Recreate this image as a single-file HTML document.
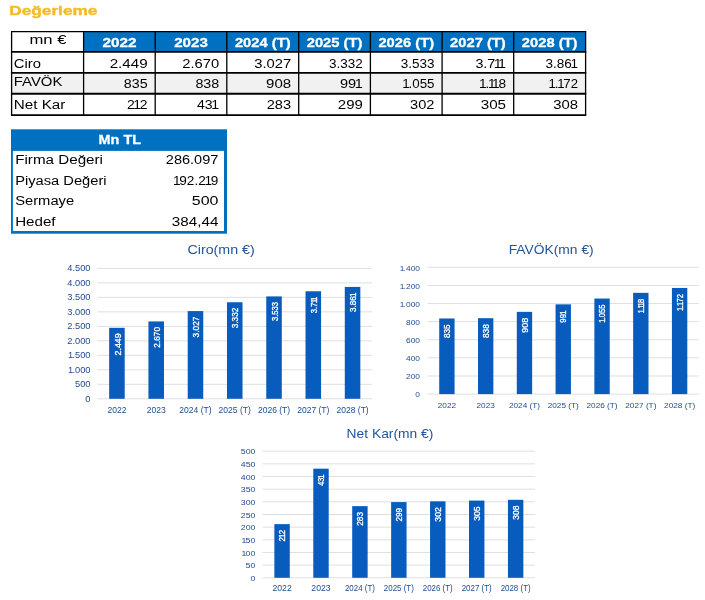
<!DOCTYPE html>
<html lang="tr">
<head>
<meta charset="utf-8">
<title>Değerleme</title>
<style>
html,body{margin:0;padding:0;background:#fff;}
body{width:705px;height:600px;overflow:hidden;font-family:"Liberation Sans",sans-serif;}
svg{display:block;}
</style>
</head>
<body>
<svg width="705" height="600" viewBox="0 0 705 600" font-family="'Liberation Sans', sans-serif">
<rect width="705" height="600" fill="#fff"/>
<text x="9.20" y="15.40" font-size="13.5" fill="#F5BB27" text-anchor="start" font-weight="bold" stroke="#F5BB27" stroke-width="0.4" textLength="88.3" lengthAdjust="spacingAndGlyphs">Değerleme</text>
<rect x="83.6" y="31.6" width="502.0" height="20.299999999999997" fill="#0070C0"/>
<rect x="11.6" y="72.9" width="574.0" height="20.89999999999999" fill="#f1f1f1"/>
<line x1="10.95" x2="586.25" y1="31.6" y2="31.6" stroke="#000" stroke-width="1.3"/>
<line x1="10.95" x2="586.25" y1="51.9" y2="51.9" stroke="#000" stroke-width="1.9"/>
<line x1="10.95" x2="586.25" y1="72.9" y2="72.9" stroke="#000" stroke-width="1.9"/>
<line x1="10.95" x2="586.25" y1="93.8" y2="93.8" stroke="#000" stroke-width="1.9"/>
<line x1="10.95" x2="586.25" y1="115.1" y2="115.1" stroke="#000" stroke-width="1.9"/>
<line x1="11.6" x2="11.6" y1="31.6" y2="115.1" stroke="#000" stroke-width="1.3"/>
<line x1="83.6" x2="83.6" y1="31.6" y2="115.1" stroke="#000" stroke-width="1.3"/>
<line x1="155.2" x2="155.2" y1="31.6" y2="115.1" stroke="#000" stroke-width="1.3"/>
<line x1="226.8" x2="226.8" y1="31.6" y2="115.1" stroke="#000" stroke-width="1.3"/>
<line x1="298.7" x2="298.7" y1="31.6" y2="115.1" stroke="#000" stroke-width="1.3"/>
<line x1="370.4" x2="370.4" y1="31.6" y2="115.1" stroke="#000" stroke-width="1.3"/>
<line x1="442.1" x2="442.1" y1="31.6" y2="115.1" stroke="#000" stroke-width="1.3"/>
<line x1="513.7" x2="513.7" y1="31.6" y2="115.1" stroke="#000" stroke-width="1.3"/>
<line x1="585.6" x2="585.6" y1="31.6" y2="115.1" stroke="#000" stroke-width="1.3"/>
<text x="48.00" y="44.20" font-size="12" fill="#000" text-anchor="middle" font-weight="normal" textLength="37.0" lengthAdjust="spacingAndGlyphs">mn €</text>
<text x="119.40" y="46.80" font-size="12.5" fill="#fff" text-anchor="middle" font-weight="bold" stroke="#fff" stroke-width="0.3" textLength="34.0" lengthAdjust="spacingAndGlyphs">2022</text>
<text x="191.00" y="46.80" font-size="12.5" fill="#fff" text-anchor="middle" font-weight="bold" stroke="#fff" stroke-width="0.3" textLength="33.6" lengthAdjust="spacingAndGlyphs">2023</text>
<text x="262.75" y="46.80" font-size="12.5" fill="#fff" text-anchor="middle" font-weight="bold" stroke="#fff" stroke-width="0.3" textLength="55.6" lengthAdjust="spacingAndGlyphs">2024 (T)</text>
<text x="334.55" y="46.80" font-size="12.5" fill="#fff" text-anchor="middle" font-weight="bold" stroke="#fff" stroke-width="0.3" textLength="55.6" lengthAdjust="spacingAndGlyphs">2025 (T)</text>
<text x="406.25" y="46.80" font-size="12.5" fill="#fff" text-anchor="middle" font-weight="bold" stroke="#fff" stroke-width="0.3" textLength="55.6" lengthAdjust="spacingAndGlyphs">2026 (T)</text>
<text x="477.90" y="46.80" font-size="12.5" fill="#fff" text-anchor="middle" font-weight="bold" stroke="#fff" stroke-width="0.3" textLength="55.6" lengthAdjust="spacingAndGlyphs">2027 (T)</text>
<text x="549.65" y="46.80" font-size="12.5" fill="#fff" text-anchor="middle" font-weight="bold" stroke="#fff" stroke-width="0.3" textLength="55.6" lengthAdjust="spacingAndGlyphs">2028 (T)</text>
<text x="13.80" y="67.50" font-size="12" fill="#000" text-anchor="start" font-weight="normal" textLength="27.2" lengthAdjust="spacingAndGlyphs">Ciro</text>
<text x="147.60" y="67.50" font-size="12" fill="#000" text-anchor="end" font-weight="normal" textLength="37.9" lengthAdjust="spacingAndGlyphs">2.449</text>
<text x="219.20" y="67.50" font-size="12" fill="#000" text-anchor="end" font-weight="normal" textLength="36.9" lengthAdjust="spacingAndGlyphs">2.670</text>
<text x="291.10" y="67.50" font-size="12" fill="#000" text-anchor="end" font-weight="normal" textLength="36.9" lengthAdjust="spacingAndGlyphs">3.027</text>
<text x="362.80" y="67.50" font-size="12" fill="#000" text-anchor="end" font-weight="normal" textLength="33.8" lengthAdjust="spacingAndGlyphs">3.332</text>
<text x="434.50" y="67.50" font-size="12" fill="#000" text-anchor="end" font-weight="normal" textLength="33.8" lengthAdjust="spacingAndGlyphs">3.533</text>
<text x="506.10" y="67.50" font-size="12" fill="#000" text-anchor="end" font-weight="normal" dx="0 0 0 -1.2 -2.22" textLength="30.7" lengthAdjust="spacingAndGlyphs">3.711</text>
<text x="578.00" y="67.50" font-size="12" fill="#000" text-anchor="end" font-weight="normal" dx="0 0 0 0 -1.2" textLength="32.6" lengthAdjust="spacingAndGlyphs">3.861</text>
<text x="13.80" y="85.90" font-size="12" fill="#000" text-anchor="start" font-weight="normal" textLength="48.6" lengthAdjust="spacingAndGlyphs">FAVÖK</text>
<text x="147.60" y="88.30" font-size="12" fill="#000" text-anchor="end" font-weight="normal" textLength="23.8" lengthAdjust="spacingAndGlyphs">835</text>
<text x="219.20" y="88.30" font-size="12" fill="#000" text-anchor="end" font-weight="normal" textLength="23.8" lengthAdjust="spacingAndGlyphs">838</text>
<text x="291.10" y="88.30" font-size="12" fill="#000" text-anchor="end" font-weight="normal" textLength="25.0" lengthAdjust="spacingAndGlyphs">908</text>
<text x="362.80" y="88.30" font-size="12" fill="#000" text-anchor="end" font-weight="normal" dx="0 0 -1.2" textLength="22.8" lengthAdjust="spacingAndGlyphs">991</text>
<text x="434.50" y="88.30" font-size="12" fill="#000" text-anchor="end" font-weight="normal" dx="0 -1.02 0 0 0" textLength="32.3" lengthAdjust="spacingAndGlyphs">1.055</text>
<text x="506.10" y="88.30" font-size="12" fill="#000" text-anchor="end" font-weight="normal" dx="0 -1.02 -1.2 -2.22 -1.02" textLength="27.0" lengthAdjust="spacingAndGlyphs">1.118</text>
<text x="578.00" y="88.30" font-size="12" fill="#000" text-anchor="end" font-weight="normal" dx="0 -1.02 -1.2 -1.02 0" textLength="29.4" lengthAdjust="spacingAndGlyphs">1.172</text>
<text x="13.80" y="108.60" font-size="12" fill="#000" text-anchor="start" font-weight="normal" textLength="51.6" lengthAdjust="spacingAndGlyphs">Net Kar</text>
<text x="147.60" y="108.50" font-size="12" fill="#000" text-anchor="end" font-weight="normal" dx="0 -1.2 -1.02" textLength="20.7" lengthAdjust="spacingAndGlyphs">212</text>
<text x="219.20" y="108.50" font-size="12" fill="#000" text-anchor="end" font-weight="normal" dx="0 0 -1.2" textLength="22.2" lengthAdjust="spacingAndGlyphs">431</text>
<text x="291.10" y="108.50" font-size="12" fill="#000" text-anchor="end" font-weight="normal" textLength="24.4" lengthAdjust="spacingAndGlyphs">283</text>
<text x="362.80" y="108.50" font-size="12" fill="#000" text-anchor="end" font-weight="normal" textLength="25.0" lengthAdjust="spacingAndGlyphs">299</text>
<text x="434.50" y="108.50" font-size="12" fill="#000" text-anchor="end" font-weight="normal" textLength="24.4" lengthAdjust="spacingAndGlyphs">302</text>
<text x="506.10" y="108.50" font-size="12" fill="#000" text-anchor="end" font-weight="normal" textLength="25.4" lengthAdjust="spacingAndGlyphs">305</text>
<text x="578.00" y="108.50" font-size="12" fill="#000" text-anchor="end" font-weight="normal" textLength="24.8" lengthAdjust="spacingAndGlyphs">308</text>
<rect x="11" y="129.3" width="216" height="104.4" fill="#0070C0"/>
<rect x="12.9" y="150.9" width="211.1" height="80.1" fill="#fff"/>
<text x="119.80" y="143.60" font-size="13" fill="#fff" text-anchor="middle" font-weight="bold" stroke="#fff" stroke-width="0.3" textLength="42.4" lengthAdjust="spacingAndGlyphs">Mn TL</text>
<text x="15.20" y="164.00" font-size="12.5" fill="#000" text-anchor="start" font-weight="normal" textLength="87.8" lengthAdjust="spacingAndGlyphs">Firma Değeri</text>
<text x="218.40" y="164.00" font-size="12.5" fill="#000" text-anchor="end" font-weight="normal" textLength="52.6" lengthAdjust="spacingAndGlyphs">286.097</text>
<text x="15.20" y="184.60" font-size="12.5" fill="#000" text-anchor="start" font-weight="normal" textLength="91.4" lengthAdjust="spacingAndGlyphs">Piyasa Değeri</text>
<text x="218.40" y="184.60" font-size="12.5" fill="#000" text-anchor="end" font-weight="normal" dx="0 -1.06 0 0 0 -1.25 -1.06" textLength="45.5" lengthAdjust="spacingAndGlyphs">192.219</text>
<text x="15.20" y="205.00" font-size="12.5" fill="#000" text-anchor="start" font-weight="normal" textLength="59.0" lengthAdjust="spacingAndGlyphs">Sermaye</text>
<text x="218.40" y="205.00" font-size="12.5" fill="#000" text-anchor="end" font-weight="normal" textLength="26.6" lengthAdjust="spacingAndGlyphs">500</text>
<text x="15.20" y="225.60" font-size="12.5" fill="#000" text-anchor="start" font-weight="normal" textLength="40.4" lengthAdjust="spacingAndGlyphs">Hedef</text>
<text x="218.40" y="225.60" font-size="12.5" fill="#000" text-anchor="end" font-weight="normal" textLength="46.6" lengthAdjust="spacingAndGlyphs">384,44</text>
<text x="221.10" y="254.20" font-size="13" fill="#23559c" text-anchor="middle" font-weight="normal" textLength="67.2" lengthAdjust="spacingAndGlyphs">Ciro(mn €)</text>
<line x1="97.3" x2="372.2" y1="398.80" y2="398.80" stroke="#dfdfdf" stroke-width="1"/>
<text transform="translate(90.50 401.83) scale(0.95 1)" font-size="9.8" fill="#1f4b8e" text-anchor="end" font-weight="normal">0</text>
<line x1="97.3" x2="372.2" y1="384.31" y2="384.31" stroke="#dfdfdf" stroke-width="1"/>
<text transform="translate(90.50 387.34) scale(0.95 1)" font-size="9.8" fill="#1f4b8e" text-anchor="end" font-weight="normal">500</text>
<line x1="97.3" x2="372.2" y1="369.82" y2="369.82" stroke="#dfdfdf" stroke-width="1"/>
<text transform="translate(90.50 372.85) scale(0.95 1)" font-size="9.8" fill="#1f4b8e" text-anchor="end" font-weight="normal" dx="0 -0.83 0 0 0">1.000</text>
<line x1="97.3" x2="372.2" y1="355.33" y2="355.33" stroke="#dfdfdf" stroke-width="1"/>
<text transform="translate(90.50 358.36) scale(0.95 1)" font-size="9.8" fill="#1f4b8e" text-anchor="end" font-weight="normal" dx="0 -0.83 0 0 0">1.500</text>
<line x1="97.3" x2="372.2" y1="340.84" y2="340.84" stroke="#dfdfdf" stroke-width="1"/>
<text transform="translate(90.50 343.87) scale(0.95 1)" font-size="9.8" fill="#1f4b8e" text-anchor="end" font-weight="normal">2.000</text>
<line x1="97.3" x2="372.2" y1="326.36" y2="326.36" stroke="#dfdfdf" stroke-width="1"/>
<text transform="translate(90.50 329.38) scale(0.95 1)" font-size="9.8" fill="#1f4b8e" text-anchor="end" font-weight="normal">2.500</text>
<line x1="97.3" x2="372.2" y1="311.87" y2="311.87" stroke="#dfdfdf" stroke-width="1"/>
<text transform="translate(90.50 314.89) scale(0.95 1)" font-size="9.8" fill="#1f4b8e" text-anchor="end" font-weight="normal">3.000</text>
<line x1="97.3" x2="372.2" y1="297.38" y2="297.38" stroke="#dfdfdf" stroke-width="1"/>
<text transform="translate(90.50 300.41) scale(0.95 1)" font-size="9.8" fill="#1f4b8e" text-anchor="end" font-weight="normal">3.500</text>
<line x1="97.3" x2="372.2" y1="282.89" y2="282.89" stroke="#dfdfdf" stroke-width="1"/>
<text transform="translate(90.50 285.92) scale(0.95 1)" font-size="9.8" fill="#1f4b8e" text-anchor="end" font-weight="normal">4.000</text>
<line x1="97.3" x2="372.2" y1="268.40" y2="268.40" stroke="#dfdfdf" stroke-width="1"/>
<text transform="translate(90.50 271.43) scale(0.95 1)" font-size="9.8" fill="#1f4b8e" text-anchor="end" font-weight="normal">4.500</text>
<rect x="109.16" y="327.83" width="15.55" height="70.97" fill="#085CBE"/>
<text transform="translate(120.66 333.33) rotate(-90)" font-size="9.5" fill="#fff" text-anchor="end" font-weight="normal" textLength="22.2" lengthAdjust="spacingAndGlyphs" stroke="#fff" stroke-width="0.3">2.449</text>
<text transform="translate(116.94 413.00) scale(0.92 1)" font-size="9.3" fill="#1f4b8e" text-anchor="middle" font-weight="normal">2022</text>
<rect x="148.43" y="321.43" width="15.55" height="77.37" fill="#085CBE"/>
<text transform="translate(159.93 326.93) rotate(-90)" font-size="9.5" fill="#fff" text-anchor="end" font-weight="normal" textLength="20.8" lengthAdjust="spacingAndGlyphs" stroke="#fff" stroke-width="0.3">2.670</text>
<text transform="translate(156.21 413.00) scale(0.92 1)" font-size="9.3" fill="#1f4b8e" text-anchor="middle" font-weight="normal">2023</text>
<rect x="187.70" y="311.08" width="15.55" height="87.72" fill="#085CBE"/>
<text transform="translate(199.20 316.58) rotate(-90)" font-size="9.5" fill="#fff" text-anchor="end" font-weight="normal" textLength="20.8" lengthAdjust="spacingAndGlyphs" stroke="#fff" stroke-width="0.3">3.027</text>
<text transform="translate(195.48 413.00) scale(0.92 1)" font-size="9.3" fill="#1f4b8e" text-anchor="middle" font-weight="normal">2024 (T)</text>
<rect x="226.97" y="302.25" width="15.55" height="96.55" fill="#085CBE"/>
<text transform="translate(238.47 307.75) rotate(-90)" font-size="9.5" fill="#fff" text-anchor="end" font-weight="normal" textLength="20.5" lengthAdjust="spacingAndGlyphs" stroke="#fff" stroke-width="0.3">3.332</text>
<text transform="translate(234.75 413.00) scale(0.92 1)" font-size="9.3" fill="#1f4b8e" text-anchor="middle" font-weight="normal">2025 (T)</text>
<rect x="266.25" y="296.42" width="15.55" height="102.38" fill="#085CBE"/>
<text transform="translate(277.74 301.92) rotate(-90)" font-size="9.5" fill="#fff" text-anchor="end" font-weight="normal" textLength="19.2" lengthAdjust="spacingAndGlyphs" stroke="#fff" stroke-width="0.3">3.533</text>
<text transform="translate(274.02 413.00) scale(0.92 1)" font-size="9.3" fill="#1f4b8e" text-anchor="middle" font-weight="normal">2026 (T)</text>
<rect x="305.52" y="291.26" width="15.55" height="107.54" fill="#085CBE"/>
<text transform="translate(317.01 296.76) rotate(-90)" font-size="9.5" fill="#fff" text-anchor="end" font-weight="normal" dx="0 0 0 -0.95 -1.76" textLength="16.6" lengthAdjust="spacingAndGlyphs" stroke="#fff" stroke-width="0.3">3.711</text>
<text transform="translate(313.29 413.00) scale(0.92 1)" font-size="9.3" fill="#1f4b8e" text-anchor="middle" font-weight="normal">2027 (T)</text>
<rect x="344.79" y="286.92" width="15.55" height="111.88" fill="#085CBE"/>
<text transform="translate(356.28 292.42) rotate(-90)" font-size="9.5" fill="#fff" text-anchor="end" font-weight="normal" dx="0 0 0 0 -0.95" textLength="19.5" lengthAdjust="spacingAndGlyphs" stroke="#fff" stroke-width="0.3">3.861</text>
<text transform="translate(352.56 413.00) scale(0.92 1)" font-size="9.3" fill="#1f4b8e" text-anchor="middle" font-weight="normal">2028 (T)</text>
<text x="551.20" y="253.90" font-size="13" fill="#23559c" text-anchor="middle" font-weight="normal" textLength="85.0" lengthAdjust="spacingAndGlyphs">FAVÖK(mn €)</text>
<line x1="427.5" x2="699" y1="394.10" y2="394.10" stroke="#dfdfdf" stroke-width="1"/>
<text transform="translate(420.00 397.30) scale(1.12 1)" font-size="7.5" fill="#1f4b8e" text-anchor="end" font-weight="normal">0</text>
<line x1="427.5" x2="699" y1="375.99" y2="375.99" stroke="#dfdfdf" stroke-width="1"/>
<text transform="translate(420.00 379.19) scale(1.12 1)" font-size="7.5" fill="#1f4b8e" text-anchor="end" font-weight="normal">200</text>
<line x1="427.5" x2="699" y1="357.87" y2="357.87" stroke="#dfdfdf" stroke-width="1"/>
<text transform="translate(420.00 361.07) scale(1.12 1)" font-size="7.5" fill="#1f4b8e" text-anchor="end" font-weight="normal">400</text>
<line x1="427.5" x2="699" y1="339.76" y2="339.76" stroke="#dfdfdf" stroke-width="1"/>
<text transform="translate(420.00 342.96) scale(1.12 1)" font-size="7.5" fill="#1f4b8e" text-anchor="end" font-weight="normal">600</text>
<line x1="427.5" x2="699" y1="321.64" y2="321.64" stroke="#dfdfdf" stroke-width="1"/>
<text transform="translate(420.00 324.84) scale(1.12 1)" font-size="7.5" fill="#1f4b8e" text-anchor="end" font-weight="normal">800</text>
<line x1="427.5" x2="699" y1="303.53" y2="303.53" stroke="#dfdfdf" stroke-width="1"/>
<text transform="translate(420.00 306.73) scale(1.12 1)" font-size="7.5" fill="#1f4b8e" text-anchor="end" font-weight="normal" dx="0 -0.64 0 0 0">1.000</text>
<line x1="427.5" x2="699" y1="285.41" y2="285.41" stroke="#dfdfdf" stroke-width="1"/>
<text transform="translate(420.00 288.61) scale(1.12 1)" font-size="7.5" fill="#1f4b8e" text-anchor="end" font-weight="normal" dx="0 -0.64 0 0 0">1.200</text>
<line x1="427.5" x2="699" y1="267.30" y2="267.30" stroke="#dfdfdf" stroke-width="1"/>
<text transform="translate(420.00 270.50) scale(1.12 1)" font-size="7.5" fill="#1f4b8e" text-anchor="end" font-weight="normal" dx="0 -0.64 0 0 0">1.400</text>
<rect x="439.21" y="318.47" width="15.36" height="75.63" fill="#085CBE"/>
<text transform="translate(450.04 324.47) rotate(-90)" font-size="9.3" fill="#fff" text-anchor="end" font-weight="normal" textLength="13.6" lengthAdjust="spacingAndGlyphs" stroke="#fff" stroke-width="0.3">835</text>
<text transform="translate(446.89 408.30) scale(1.1 1)" font-size="7.5" fill="#1f4b8e" text-anchor="middle" font-weight="normal">2022</text>
<rect x="478.00" y="318.20" width="15.36" height="75.90" fill="#085CBE"/>
<text transform="translate(488.83 324.20) rotate(-90)" font-size="9.3" fill="#fff" text-anchor="end" font-weight="normal" textLength="13.9" lengthAdjust="spacingAndGlyphs" stroke="#fff" stroke-width="0.3">838</text>
<text transform="translate(485.68 408.30) scale(1.1 1)" font-size="7.5" fill="#1f4b8e" text-anchor="middle" font-weight="normal">2023</text>
<rect x="516.78" y="311.86" width="15.36" height="82.24" fill="#085CBE"/>
<text transform="translate(527.61 317.86) rotate(-90)" font-size="9.3" fill="#fff" text-anchor="end" font-weight="normal" textLength="15.0" lengthAdjust="spacingAndGlyphs" stroke="#fff" stroke-width="0.3">908</text>
<text transform="translate(524.46 408.30) scale(1.1 1)" font-size="7.5" fill="#1f4b8e" text-anchor="middle" font-weight="normal">2024 (T)</text>
<rect x="555.57" y="304.34" width="15.36" height="89.76" fill="#085CBE"/>
<text transform="translate(566.40 310.34) rotate(-90)" font-size="9.3" fill="#fff" text-anchor="end" font-weight="normal" dx="0 0 -0.93" textLength="12.3" lengthAdjust="spacingAndGlyphs" stroke="#fff" stroke-width="0.3">991</text>
<text transform="translate(563.25 408.30) scale(1.1 1)" font-size="7.5" fill="#1f4b8e" text-anchor="middle" font-weight="normal">2025 (T)</text>
<rect x="594.36" y="298.55" width="15.36" height="95.55" fill="#085CBE"/>
<text transform="translate(605.18 304.55) rotate(-90)" font-size="9.3" fill="#fff" text-anchor="end" font-weight="normal" dx="0 -0.79 0 0 0" textLength="18.3" lengthAdjust="spacingAndGlyphs" stroke="#fff" stroke-width="0.3">1.055</text>
<text transform="translate(602.04 408.30) scale(1.1 1)" font-size="7.5" fill="#1f4b8e" text-anchor="middle" font-weight="normal">2026 (T)</text>
<rect x="633.14" y="292.84" width="15.36" height="101.26" fill="#085CBE"/>
<text transform="translate(643.97 298.84) rotate(-90)" font-size="9.3" fill="#fff" text-anchor="end" font-weight="normal" dx="0 -0.79 -0.93 -1.72 -0.79" textLength="14.5" lengthAdjust="spacingAndGlyphs" stroke="#fff" stroke-width="0.3">1.118</text>
<text transform="translate(640.82 408.30) scale(1.1 1)" font-size="7.5" fill="#1f4b8e" text-anchor="middle" font-weight="normal">2027 (T)</text>
<rect x="671.93" y="287.95" width="15.36" height="106.15" fill="#085CBE"/>
<text transform="translate(682.76 293.95) rotate(-90)" font-size="9.3" fill="#fff" text-anchor="end" font-weight="normal" dx="0 -0.79 -0.93 -0.79 0" textLength="17.1" lengthAdjust="spacingAndGlyphs" stroke="#fff" stroke-width="0.3">1.172</text>
<text transform="translate(679.61 408.30) scale(1.1 1)" font-size="7.5" fill="#1f4b8e" text-anchor="middle" font-weight="normal">2028 (T)</text>
<text x="390.00" y="438.20" font-size="13" fill="#23559c" text-anchor="middle" font-weight="normal" textLength="86.8" lengthAdjust="spacingAndGlyphs">Net Kar(mn €)</text>
<line x1="262.6" x2="535.1" y1="577.80" y2="577.80" stroke="#dfdfdf" stroke-width="1"/>
<text transform="translate(255.40 581.08) scale(1.1 1)" font-size="8" fill="#1f4b8e" text-anchor="end" font-weight="normal">0</text>
<line x1="262.6" x2="535.1" y1="565.14" y2="565.14" stroke="#dfdfdf" stroke-width="1"/>
<text transform="translate(255.40 568.42) scale(1.1 1)" font-size="8" fill="#1f4b8e" text-anchor="end" font-weight="normal">50</text>
<line x1="262.6" x2="535.1" y1="552.48" y2="552.48" stroke="#dfdfdf" stroke-width="1"/>
<text transform="translate(255.40 555.76) scale(1.1 1)" font-size="8" fill="#1f4b8e" text-anchor="end" font-weight="normal" dx="0 -0.68 0">100</text>
<line x1="262.6" x2="535.1" y1="539.82" y2="539.82" stroke="#dfdfdf" stroke-width="1"/>
<text transform="translate(255.40 543.10) scale(1.1 1)" font-size="8" fill="#1f4b8e" text-anchor="end" font-weight="normal" dx="0 -0.68 0">150</text>
<line x1="262.6" x2="535.1" y1="527.16" y2="527.16" stroke="#dfdfdf" stroke-width="1"/>
<text transform="translate(255.40 530.44) scale(1.1 1)" font-size="8" fill="#1f4b8e" text-anchor="end" font-weight="normal">200</text>
<line x1="262.6" x2="535.1" y1="514.50" y2="514.50" stroke="#dfdfdf" stroke-width="1"/>
<text transform="translate(255.40 517.78) scale(1.1 1)" font-size="8" fill="#1f4b8e" text-anchor="end" font-weight="normal">250</text>
<line x1="262.6" x2="535.1" y1="501.84" y2="501.84" stroke="#dfdfdf" stroke-width="1"/>
<text transform="translate(255.40 505.12) scale(1.1 1)" font-size="8" fill="#1f4b8e" text-anchor="end" font-weight="normal">300</text>
<line x1="262.6" x2="535.1" y1="489.18" y2="489.18" stroke="#dfdfdf" stroke-width="1"/>
<text transform="translate(255.40 492.46) scale(1.1 1)" font-size="8" fill="#1f4b8e" text-anchor="end" font-weight="normal">350</text>
<line x1="262.6" x2="535.1" y1="476.52" y2="476.52" stroke="#dfdfdf" stroke-width="1"/>
<text transform="translate(255.40 479.80) scale(1.1 1)" font-size="8" fill="#1f4b8e" text-anchor="end" font-weight="normal">400</text>
<line x1="262.6" x2="535.1" y1="463.86" y2="463.86" stroke="#dfdfdf" stroke-width="1"/>
<text transform="translate(255.40 467.14) scale(1.1 1)" font-size="8" fill="#1f4b8e" text-anchor="end" font-weight="normal">450</text>
<line x1="262.6" x2="535.1" y1="451.20" y2="451.20" stroke="#dfdfdf" stroke-width="1"/>
<text transform="translate(255.40 454.48) scale(1.1 1)" font-size="8" fill="#1f4b8e" text-anchor="end" font-weight="normal">500</text>
<rect x="274.36" y="524.12" width="15.42" height="53.68" fill="#085CBE"/>
<text transform="translate(285.21 529.92) rotate(-90)" font-size="9.3" fill="#fff" text-anchor="end" font-weight="normal" dx="0 -0.93 -0.79" textLength="11.6" lengthAdjust="spacingAndGlyphs" stroke="#fff" stroke-width="0.3">212</text>
<text transform="translate(282.06 590.50) scale(1.06 1)" font-size="8.2" fill="#1f4b8e" text-anchor="middle" font-weight="normal">2022</text>
<rect x="313.29" y="468.67" width="15.42" height="109.13" fill="#085CBE"/>
<text transform="translate(324.14 474.47) rotate(-90)" font-size="9.3" fill="#fff" text-anchor="end" font-weight="normal" dx="0 0 -0.93" textLength="11.4" lengthAdjust="spacingAndGlyphs" stroke="#fff" stroke-width="0.3">431</text>
<text transform="translate(320.99 590.50) scale(1.06 1)" font-size="8.2" fill="#1f4b8e" text-anchor="middle" font-weight="normal">2023</text>
<rect x="352.21" y="506.14" width="15.42" height="71.66" fill="#085CBE"/>
<text transform="translate(363.07 511.94) rotate(-90)" font-size="9.3" fill="#fff" text-anchor="end" font-weight="normal" textLength="13.8" lengthAdjust="spacingAndGlyphs" stroke="#fff" stroke-width="0.3">283</text>
<text x="359.92" y="590.50" font-size="8.2" fill="#1f4b8e" text-anchor="middle" font-weight="normal" textLength="30.0" lengthAdjust="spacingAndGlyphs">2024 (T)</text>
<rect x="391.14" y="502.09" width="15.42" height="75.71" fill="#085CBE"/>
<text transform="translate(402.00 507.89) rotate(-90)" font-size="9.3" fill="#fff" text-anchor="end" font-weight="normal" textLength="13.6" lengthAdjust="spacingAndGlyphs" stroke="#fff" stroke-width="0.3">299</text>
<text x="398.85" y="590.50" font-size="8.2" fill="#1f4b8e" text-anchor="middle" font-weight="normal" textLength="30.0" lengthAdjust="spacingAndGlyphs">2025 (T)</text>
<rect x="430.07" y="501.33" width="15.42" height="76.47" fill="#085CBE"/>
<text transform="translate(440.93 507.13) rotate(-90)" font-size="9.3" fill="#fff" text-anchor="end" font-weight="normal" textLength="14.5" lengthAdjust="spacingAndGlyphs" stroke="#fff" stroke-width="0.3">302</text>
<text x="437.78" y="590.50" font-size="8.2" fill="#1f4b8e" text-anchor="middle" font-weight="normal" textLength="30.0" lengthAdjust="spacingAndGlyphs">2026 (T)</text>
<rect x="469.00" y="500.57" width="15.42" height="77.23" fill="#085CBE"/>
<text transform="translate(479.86 506.37) rotate(-90)" font-size="9.3" fill="#fff" text-anchor="end" font-weight="normal" textLength="14.5" lengthAdjust="spacingAndGlyphs" stroke="#fff" stroke-width="0.3">305</text>
<text x="476.71" y="590.50" font-size="8.2" fill="#1f4b8e" text-anchor="middle" font-weight="normal" textLength="30.0" lengthAdjust="spacingAndGlyphs">2027 (T)</text>
<rect x="507.93" y="499.81" width="15.42" height="77.99" fill="#085CBE"/>
<text transform="translate(518.78 505.61) rotate(-90)" font-size="9.3" fill="#fff" text-anchor="end" font-weight="normal" textLength="14.1" lengthAdjust="spacingAndGlyphs" stroke="#fff" stroke-width="0.3">308</text>
<text x="515.64" y="590.50" font-size="8.2" fill="#1f4b8e" text-anchor="middle" font-weight="normal" textLength="30.0" lengthAdjust="spacingAndGlyphs">2028 (T)</text>
</svg>
</body>
</html>
